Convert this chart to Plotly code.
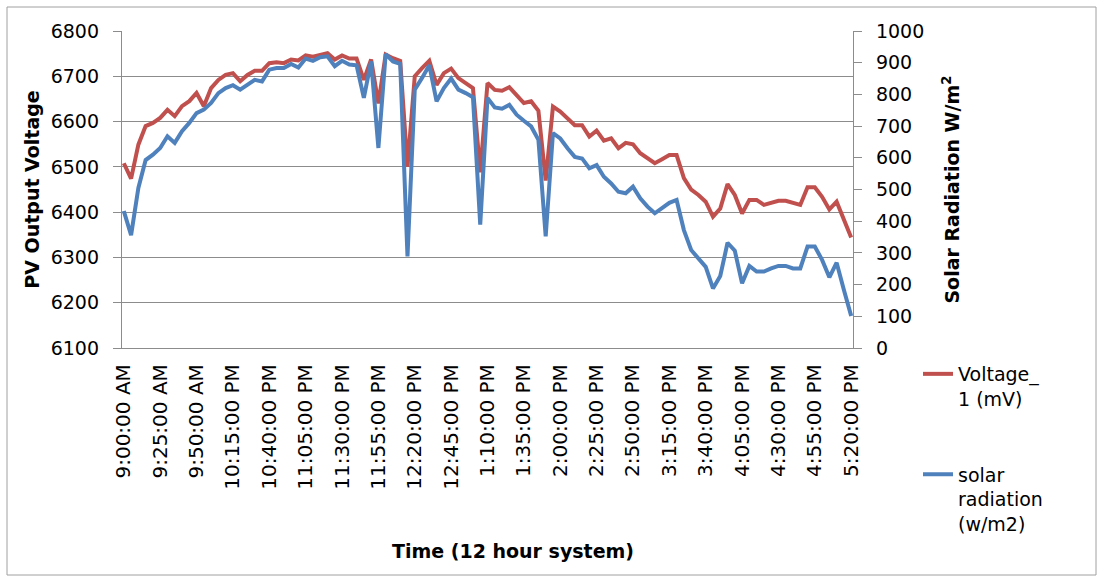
import plotly.graph_objects as go

times = [
    "9:00:00 AM", "9:05:00 AM", "9:10:00 AM", "9:15:00 AM", "9:20:00 AM", "9:25:00 AM",
    "9:30:00 AM", "9:35:00 AM", "9:40:00 AM", "9:45:00 AM", "9:50:00 AM", "9:55:00 AM",
    "10:00:00 PM", "10:05:00 PM", "10:10:00 PM", "10:15:00 PM", "10:20:00 PM", "10:25:00 PM",
    "10:30:00 PM", "10:35:00 PM", "10:40:00 PM", "10:45:00 PM", "10:50:00 PM", "10:55:00 PM",
    "11:00:00 PM", "11:05:00 PM", "11:10:00 PM", "11:15:00 PM", "11:20:00 PM", "11:25:00 PM",
    "11:30:00 PM", "11:35:00 PM", "11:40:00 PM", "11:45:00 PM", "11:50:00 PM", "11:55:00 PM",
    "12:00:00 PM", "12:05:00 PM", "12:10:00 PM", "12:15:00 PM", "12:20:00 PM", "12:25:00 PM",
    "12:30:00 PM", "12:35:00 PM", "12:40:00 PM", "12:45:00 PM", "12:50:00 PM", "12:55:00 PM",
    "1:00:00 PM", "1:05:00 PM", "1:10:00 PM", "1:15:00 PM", "1:20:00 PM", "1:25:00 PM",
    "1:30:00 PM", "1:35:00 PM", "1:40:00 PM", "1:45:00 PM", "1:50:00 PM", "1:55:00 PM",
    "2:00:00 PM", "2:05:00 PM", "2:10:00 PM", "2:15:00 PM", "2:20:00 PM", "2:25:00 PM",
    "2:30:00 PM", "2:35:00 PM", "2:40:00 PM", "2:45:00 PM", "2:50:00 PM", "2:55:00 PM",
    "3:00:00 PM", "3:05:00 PM", "3:10:00 PM", "3:15:00 PM", "3:20:00 PM", "3:25:00 PM",
    "3:30:00 PM", "3:35:00 PM", "3:40:00 PM", "3:45:00 PM", "3:50:00 PM", "3:55:00 PM",
    "4:00:00 PM", "4:05:00 PM", "4:10:00 PM", "4:15:00 PM", "4:20:00 PM", "4:25:00 PM",
    "4:30:00 PM", "4:35:00 PM", "4:40:00 PM", "4:45:00 PM", "4:50:00 PM", "4:55:00 PM",
    "5:00:00 PM", "5:05:00 PM", "5:10:00 PM", "5:15:00 PM", "5:20:00 PM",
]

voltage_mv = [
    6508, 6474, 6549, 6590, 6597, 6608, 6626, 6612, 6634, 6645,
    6663, 6634, 6674, 6692, 6703, 6707, 6689, 6703, 6712, 6712,
    6729, 6731, 6729, 6737, 6735, 6746, 6743, 6746, 6751, 6737,
    6746, 6739, 6739, 6692, 6737, 6640, 6748, 6740, 6734, 6500,
    6700, 6718, 6734, 6681, 6707, 6717, 6696, 6685, 6674, 6488,
    6685, 6670, 6668, 6676, 6659, 6641, 6645, 6624, 6470, 6633,
    6622, 6607, 6592, 6592, 6567, 6580, 6558, 6563, 6541, 6553,
    6550, 6530, 6519, 6508, 6517, 6526, 6526, 6475, 6450, 6438,
    6423, 6390, 6408, 6462, 6438, 6397, 6427, 6427, 6416, 6421,
    6425, 6425, 6421, 6416, 6455, 6455, 6434, 6406, 6423, 6386,
    6344,
]

radiation_wm2 = [
    432, 356, 505, 593, 610, 631, 668, 647, 684, 710,
    741, 752, 773, 804, 820, 829, 815, 831, 846, 841,
    878, 883, 883, 896, 885, 913, 906, 917, 920, 889,
    906, 894, 892, 789, 904, 631, 927, 904, 896, 289,
    815, 852, 892, 778, 820, 850, 815, 804, 791, 389,
    789, 759, 755, 767, 736, 717, 699, 657, 352, 678,
    661, 630, 603, 598, 567, 577, 540, 519, 493, 488,
    509, 472, 446, 425, 441, 458, 467, 372, 309, 283,
    256, 188, 227, 332, 307, 204, 259, 241, 241, 251,
    259, 259, 251, 251, 320, 320, 278, 223, 269, 183,
    101,
]

tick_labels = [
    "9:00:00 AM", "9:25:00 AM", "9:50:00 AM", "10:15:00 PM", "10:40:00 PM",
    "11:05:00 PM", "11:30:00 PM", "11:55:00 PM", "12:20:00 PM", "12:45:00 PM",
    "1:10:00 PM", "1:35:00 PM", "2:00:00 PM", "2:25:00 PM", "2:50:00 PM",
    "3:15:00 PM", "3:40:00 PM", "4:05:00 PM", "4:30:00 PM", "4:55:00 PM",
    "5:20:00 PM",
]

F = "DejaVu Sans"
GRID = "#8C8C8C"

fig = go.Figure()
fig.add_trace(go.Scatter(
    x=times, y=voltage_mv, name="Voltage_<br>1 (mV)", mode="lines",
    line=dict(color="#C0504D", width=4), yaxis="y", legendgroup="a",
))
fig.add_trace(go.Scatter(
    x=times, y=radiation_wm2, name="solar<br>radiation<br>(w/m2)", mode="lines",
    line=dict(color="#4F81BD", width=4), yaxis="y2", legendgroup="b",
))

fig.update_layout(
    width=1101, height=579,
    margin=dict(l=122, r=248, t=31, b=231, pad=0),
    paper_bgcolor="white", plot_bgcolor="white",
    font=dict(family=F, size=19, color="black"),
    xaxis=dict(
        type="category", categoryorder="array", categoryarray=times,
        range=[-0.25, 100.25], tickmode="array", tickvals=tick_labels, ticktext=tick_labels,
        tickangle=-90, showgrid=False, showline=True, linecolor=GRID, linewidth=1.3,
        ticks="", ticklabelstandoff=7, zeroline=False,
        tickfont=dict(family=F, size=20),
    ),
    yaxis=dict(
        range=[6100, 6800], tick0=6100, dtick=100, showgrid=True, gridcolor=GRID, gridwidth=1.3,
        showline=True, linecolor=GRID, linewidth=1.3, ticks="outside", ticklen=8, tickcolor=GRID,
        tickwidth=1.3, ticklabelstandoff=10, zeroline=False,
        title=dict(text="<b>PV Output Voltage</b>", standoff=6, font=dict(family=F, size=19)),
    ),
    yaxis2=dict(
        overlaying="y", side="right", range=[0, 1000], tick0=0, dtick=100, showgrid=False,
        showline=True, linecolor=GRID, linewidth=1.3, ticks="outside", ticklen=8, tickcolor=GRID,
        tickwidth=1.3, ticklabelstandoff=10, zeroline=False,
        title=dict(text="<b>Solar Radiation W/m<sup>2</sup></b>", standoff=22, font=dict(family=F, size=19)),
    ),
    legend=dict(
        x=(918 - 122) / 731, xanchor="left", y=(348 - 355) / 317, yanchor="top",
        font=dict(family=F, size=19), valign="top", tracegroupgap=48,
        bgcolor="rgba(0,0,0,0)", itemwidth=30,
    ),
    annotations=[dict(
        text="<b>Time (12 hour system)</b>", xref="paper", yref="paper",
        x=(513 - 122) / 731, y=(348 - 551) / 317, xanchor="center", yanchor="middle",
        showarrow=False, font=dict(family=F, size=19),
    )],
    shapes=[dict(
        type="rect", xref="paper", yref="paper",
        x0=(7 - 122) / 731, x1=(1096 - 122) / 731,
        y0=(348 - 575) / 317, y1=(348 - 7) / 317,
        line=dict(color="#A0A0A0", width=1), fillcolor="rgba(0,0,0,0)", layer="below",
    )],
)

fig.write_html("out.html")
